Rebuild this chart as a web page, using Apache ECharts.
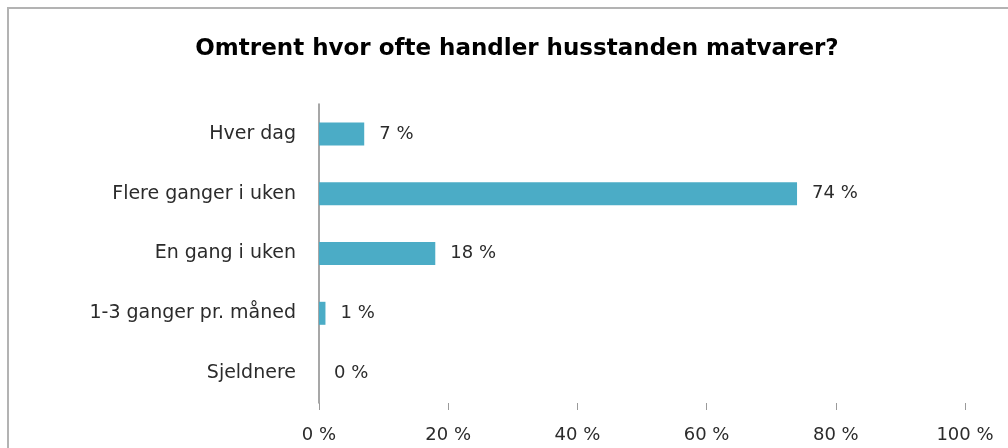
<!DOCTYPE html>
<html>
<head>
<meta charset="utf-8">
<script src="https://cdn.jsdelivr.net/npm/echarts@6/dist/echarts.min.js"></script>
<style>
  html, body { margin: 0; padding: 0; background: #ffffff; }
  #chart { width: 1008px; height: 448px; }
</style>
</head>
<body>
<div id="chart"></div>
<script>
// Survey answers: how often the household buys groceries
const categories = ['Hver dag', 'Flere ganger i uken', 'En gang i uken', '1-3 ganger pr. måned', 'Sjeldnere'];
const shares = [7, 74, 18, 1, 0];
const xTicks = [0, 20, 40, 60, 80, 100];

const FONT = 'DejaVu Sans';
const chart = echarts.init(document.getElementById('chart'), null, { renderer: 'canvas' });

chart.setOption({
  backgroundColor: '#ffffff',
  animation: false,
  title: {
    text: 'Omtrent hvor ofte handler husstanden matvarer?',
    left: 512,
    top: 33,
    textAlign: 'center',
    textStyle: { fontFamily: FONT, fontSize: 23, fontWeight: 'bold', color: '#000000' }
  },
  graphic: [{
    type: 'rect',
    shape: { x: 8, y: 8, width: 1100, height: 600 },
    style: { fill: 'none', stroke: '#b3b3b3', lineWidth: 2 },
    silent: true
  }],
  grid: { left: 319, right: 43, top: 104, bottom: 45, containLabel: false },
  xAxis: {
    type: 'value',
    min: xTicks[0],
    max: xTicks[xTicks.length - 1],
    interval: xTicks[1] - xTicks[0],
    axisLine: { show: false },
    axisTick: { show: true, length: 7, lineStyle: { color: '#9a9a9a', width: 1 } },
    splitLine: { show: false },
    axisLabel: {
      margin: 23,
      fontFamily: FONT,
      fontSize: 18,
      color: '#2b2b2b',
      formatter: v => v + ' %'
    }
  },
  yAxis: {
    type: 'category',
    inverse: true,
    data: categories,
    axisLine: { show: true, lineStyle: { color: '#8a8a8a', width: 1.5 } },
    axisTick: { show: false },
    axisLabel: { margin: 23, fontFamily: FONT, fontSize: 19, color: '#2b2b2b' }
  },
  series: [{
    type: 'bar',
    data: shares,
    barWidth: 23,
    itemStyle: { color: '#4bacc6' },
    label: {
      show: true,
      position: 'right',
      distance: 15,
      fontFamily: FONT,
      fontSize: 18,
      color: '#2b2b2b',
      formatter: p => p.value + ' %'
    }
  }]
});
</script>
</body>
</html>
